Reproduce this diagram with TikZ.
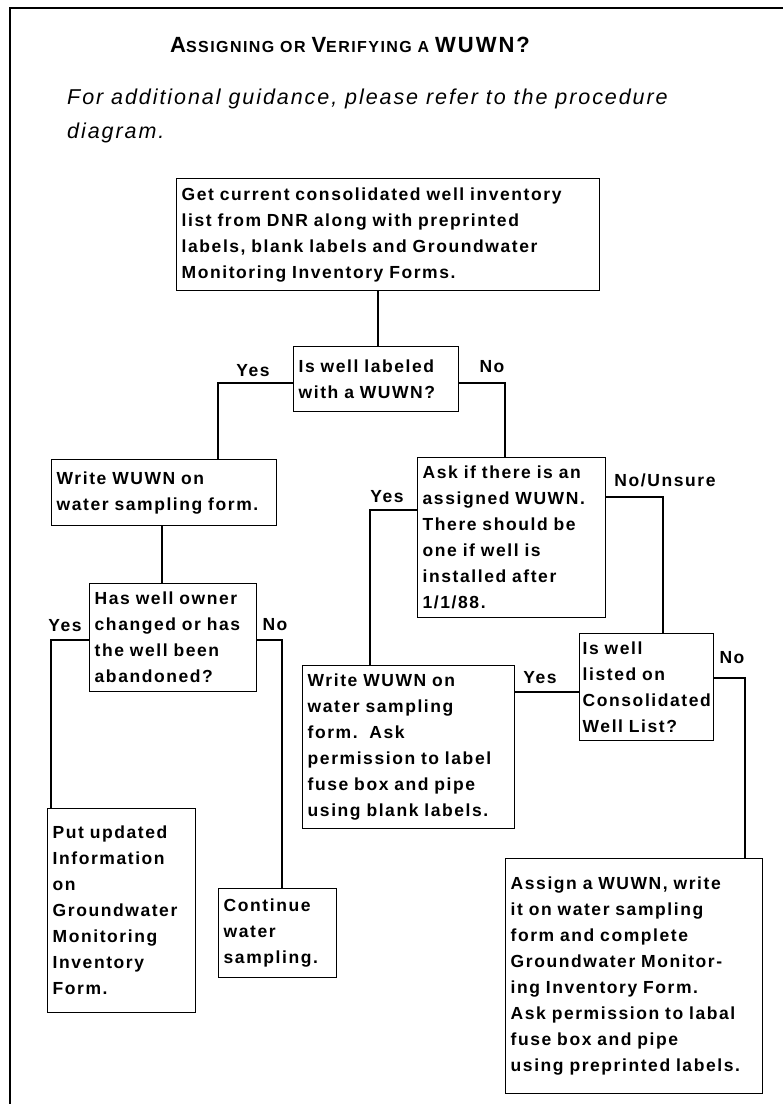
\documentclass[tikz,border=0pt]{standalone}
\usepackage{fontspec}
\setmainfont{Liberation Sans}
\newfontfamily\lsans[LetterSpace=9]{Liberation Sans}
\newfontfamily\isans[LetterSpace=9]{Liberation Sans}
\newcommand\bxfont{\lsans\bfseries\fontsize{17.5}{26}\selectfont}
\newcommand\itfont{\isans\itshape\fontsize{21.5}{34}\selectfont}
\newcommand\tbig[1]{{\fontsize{22}{26}\selectfont #1}}
\newcommand\tsm[1]{{\fontsize{16}{26}\selectfont #1}}
\begin{document}
\begin{tikzpicture}[x=1pt,y=-1pt,
  bx/.style={draw, line width=1.4pt, anchor=north west, align=left, inner xsep=5pt, inner ysep=0pt, font=\bxfont},
  lbl/.style={font=\bxfont, inner sep=0pt},
  conn/.style={line width=1.8pt}]
\useasboundingbox (0,0) rectangle (783,1104);
\fill[white] (0,0) rectangle (783,1104);
\draw[line width=2pt] (783,8) -- (10,8) -- (10,1104);
\node[font=\lsans\bfseries, inner sep=0pt] (title) at (350,45) {\tbig{A}\tsm{SSIGNING OR }\tbig{V}\tsm{ERIFYING A }\tbig{WUWN?}};
\node[font=\itfont, anchor=north west, align=left, inner sep=0pt] (intro) at (67,89) {For additional guidance, please refer to the procedure\\diagram.};
\node[bx, text width=413pt, minimum height=112pt] (b1) at (176,178) {Get current consolidated well inventory\\ list from DNR along with preprinted\\ labels, blank labels and Groundwater\\ Monitoring Inventory Forms.};
\node[bx, text width=155pt, minimum height=65pt] (q1) at (293,346) {Is well labeled\\ with a WUWN?};
\node[bx, text width=215pt, minimum height=66pt] (w1) at (51,459) {Write WUWN on\\ water sampling form.};
\node[bx, text width=157pt, minimum height=108pt] (q2) at (89,583) {Has well owner\\ changed or has\\ the well been\\ abandoned?};
\node[bx, text width=138pt, minimum height=204pt] (put) at (47,808) {Put updated\\ Information\\ on\\ Groundwater\\ Monitoring\\ Inventory\\ Form.};
\node[bx, text width=108pt, minimum height=89pt] (cont) at (218,888) {Continue\\ water\\ sampling.};
\node[bx, text width=178pt, minimum height=160pt] (ask) at (417,457) {Ask if there is an\\ assigned WUWN.\\ There should be\\ one if well is\\ installed after\\ 1/1/88.};
\node[bx, text width=202pt, minimum height=163pt] (w2) at (302,665) {Write WUWN on\\ water sampling\\ form.\ \ Ask\\ permission to label\\ fuse box and pipe\\ using blank labels.};
\node[bx, inner xsep=3pt, text width=128pt, minimum height=107pt] (q3) at (579,633) {Is well\\ listed on\\ Consolidated\\ Well List?};
\node[bx, text width=247pt, minimum height=235pt] (fin) at (505,858) {Assign a WUWN, write\\ it on water sampling\\ form and complete\\ Groundwater Monitor-\\ ing Inventory Form.\\ Ask permission to labal\\ fuse box and pipe\\ using preprinted labels.};
\coordinate (c1) at (378,0);
\coordinate (c2) at (162,0);
\coordinate (j1) at (218,383);
\coordinate (j2) at (505,383);
\coordinate (j3) at (51,640);
\coordinate (j4) at (282,640);
\coordinate (j5) at (370,510);
\coordinate (j6) at (663,497);
\coordinate (j7) at (745,678);
\coordinate (j8) at (0,692);
\draw[conn] (c1 |- b1.south) -- (c1 |- q1.north);
\draw[conn] (q1.west |- j1) -- (j1) -- (j1 |- w1.north);
\draw[conn] (q1.east |- j2) -- (j2) -- (j2 |- ask.north);
\draw[conn] (c2 |- w1.south) -- (c2 |- q2.north);
\draw[conn] (q2.west |- j3) -- (j3) -- (j3 |- put.north);
\draw[conn] (q2.east |- j4) -- (j4) -- (j4 |- cont.north);
\draw[conn] (ask.west |- j5) -- (j5) -- (j5 |- w2.north);
\draw[conn] (ask.east |- j6) -- (j6) -- (j6 |- q3.north);
\draw[conn] (q3.west |- j8) -- (w2.east |- j8);
\draw[conn] (q3.east |- j7) -- (j7) -- (j7 |- fin.north);
\node[lbl] (l1) at (253,371) {Yes};
\node[lbl] (l2) at (492,367) {No};
\node[lbl] (l3) at (65,626) {Yes};
\node[lbl] (l4) at (275,625) {No};
\node[lbl] (l5) at (387,497) {Yes};
\node[lbl] (l6) at (665,480) {No/Unsure};
\node[lbl] (l7) at (540,678) {Yes};
\node[lbl] (l8) at (732,658) {No};
\end{tikzpicture}
\end{document}
